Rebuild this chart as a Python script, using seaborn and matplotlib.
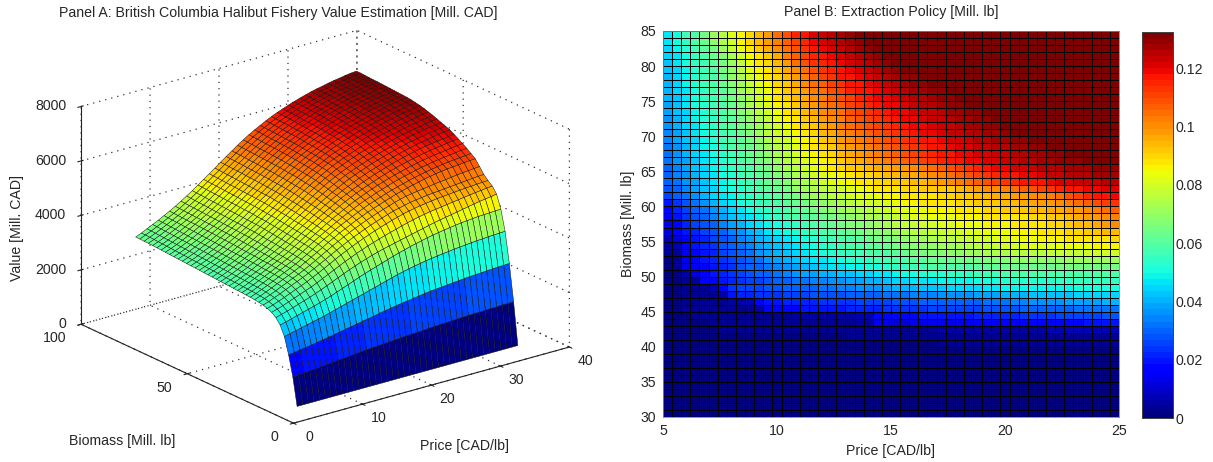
import numpy as np
import matplotlib
matplotlib.use("Agg")
import matplotlib.pyplot as plt
import seaborn as sns
from mpl_toolkits.mplot3d import proj3d

price_nodes = np.linspace(3.6, 35.6, 40)
biomass_nodes = np.arange(10, 88, 2)
value_rows = [
[0]*40,
[100,102,104,106,108,110,112,114,116,118,120,122,124,126,128,129,131,132,134,135,137,138,139,140,142,143,144,145,146,147,148,149,150,150,151,152,152,153,153,154],
[175,178,182,185,188,192,195,199,203,207,211,215,219,223,227,231,235,239,243,246,250,253,256,259,262,265,267,269,271,273,275,277,279,280,281,283,284,285,286,287],
[235,240,245,250,255,260,265,270,276,282,288,294,300,306,312,318,324,330,336,342,348,353,358,362,366,370,373,376,379,381,384,386,388,390,392,393,395,396,397,398],
[270,275,281,287,293,299,305,311,318,325,333,341,349,357,365,373,380,387,394,401,408,414,420,426,431,436,441,445,449,453,456,459,462,464,466,468,469,470,471,472],
[290,296,302,309,316,323,330,338,346,355,364,373,382,391,399,407,414,421,427,433,438,443,448,453,458,463,468,473,478,482,486,490,494,498,502,506,510,513,516,520],
[302,308,315,323,331,339,347,355,364,374,384,394,404,414,423,432,440,448,455,462,469,475,481,487,493,498,503,507,511,514,517,520,523,526,529,532,535,537,540,542],
[309,316,324,332,341,350,358,367,377,387,398,409,420,431,441,451,460,469,477,485,492,499,506,512,518,523,527,531,534,537,540,542,544,546,548,550,551,553,554,555],
[314,321,330,338,348,357,366,375,385,396,407,418,430,441,452,462,472,481,490,498,506,513,520,527,532,537,542,545,548,551,553,555,557,559,561,563,565,567,569,570],
[317,325,333,342,352,361,371,380,390,401,413,425,437,449,460,471,481,491,500,509,517,525,532,539,546,552,557,561,564,567,570,573,576,578,581,584,586,588,590,592],
[319,327,336,345,355,365,374,384,394,406,418,430,442,455,466,478,488,498,508,517,526,534,541,549,556,563,569,575,580,585,590,594,598,601,604,606,608,610,612,613],
[321,329,338,347,357,367,377,387,397,409,421,434,447,459,471,483,494,504,514,524,533,542,549,557,564,571,577,583,589,594,599,603,607,611,614,617,619,621,623,625],
[322,330,339,349,359,369,379,389,399,411,424,437,450,463,475,487,499,510,520,530,540,549,557,565,572,579,586,592,598,603,608,613,617,621,624,627,630,632,635,637],
[323,331,340,350,360,370,380,391,401,413,426,439,452,465,478,491,503,514,525,536,546,555,564,572,580,587,594,600,606,612,617,622,626,630,633,636,639,642,645,647],
[324,332,341,351,361,371,382,392,403,415,428,441,455,468,481,494,506,518,530,541,551,561,570,578,586,594,601,608,614,620,625,630,635,639,643,646,649,652,655,657],
[325,333,342,352,362,372,383,393,404,416,429,443,457,470,484,497,510,522,534,546,556,566,575,584,592,600,607,614,621,627,633,638,643,648,652,655,658,661,664,667],
[326,334,343,353,363,374,384,395,406,418,431,445,459,473,486,500,513,526,538,550,561,571,581,590,598,606,613,620,627,633,639,645,650,655,659,663,667,670,673,676],
[327,335,344,354,364,375,385,396,407,420,433,447,461,475,489,503,516,529,542,554,565,576,586,595,603,611,619,626,633,639,645,651,656,661,665,669,673,676,679,682],
[328,336,345,355,365,376,387,398,409,422,435,449,463,477,491,505,519,533,546,558,570,581,591,600,608,616,624,631,638,644,650,656,661,666,671,675,679,682,685,688],
[329,337,346,356,366,377,388,399,411,423,437,451,465,480,494,508,522,536,549,562,574,585,595,604,613,621,629,636,643,649,655,661,666,671,676,680,684,688,691,694],
[330,338,347,357,367,378,389,401,413,425,439,453,467,482,496,511,525,539,553,566,578,589,600,609,618,626,634,641,648,654,660,666,671,676,681,685,689,693,697,700],
[331,339,348,358,368,379,390,402,414,427,441,455,469,484,498,513,527,542,556,569,581,593,604,613,622,630,638,646,653,659,665,671,676,681,686,690,694,698,702,705],
[332,340,349,359,369,380,392,403,416,429,443,457,471,486,500,515,530,544,558,572,584,596,607,617,626,634,642,650,657,664,670,675,680,685,690,695,699,703,707,710],
[333,341,350,360,370,381,393,405,417,430,444,458,472,487,502,517,532,546,561,574,587,598,609,620,629,637,645,653,660,667,673,679,684,689,694,699,703,707,711,714],
[334,342,351,361,371,382,394,406,418,431,445,459,474,489,504,519,534,548,563,576,589,601,612,622,632,640,648,656,663,670,676,682,687,692,697,702,706,710,714,717],
[335,343,352,362,372,383,395,407,419,432,446,461,476,491,506,521,536,550,565,578,591,603,614,624,634,643,651,658,665,672,678,684,690,695,700,705,709,713,717,720],
[336,344,353,363,373,384,396,408,420,433,447,462,477,492,507,522,537,552,566,580,593,605,616,626,636,645,653,660,667,674,680,686,692,697,702,707,711,715,719,722],
[337,345,354,364,374,385,397,409,421,434,448,463,478,493,508,523,538,553,568,582,595,606,617,628,637,646,654,662,669,676,682,688,694,699,704,708,712,716,720,723],
[338,346,355,365,375,386,398,410,422,435,449,464,479,494,509,525,540,555,570,583,596,608,619,629,639,648,656,664,671,678,684,690,695,700,705,709,713,717,721,724],
[339,347,356,366,376,387,399,411,423,436,450,465,480,495,510,526,541,556,571,585,598,610,621,631,641,650,658,666,673,680,686,692,697,702,707,711,715,719,722,725],
[340,348,357,367,377,388,400,412,424,437,451,466,481,496,511,527,542,557,572,586,599,611,622,633,642,651,659,667,674,681,687,693,698,703,708,712,716,720,723,726],
[341,349,358,368,378,389,401,413,425,438,452,467,482,497,512,528,543,558,573,587,600,612,623,634,644,653,661,669,676,683,689,695,700,705,709,713,717,721,724,727],
[342,350,359,369,379,390,402,414,426,439,453,468,483,498,513,529,544,559,574,588,601,613,624,635,645,654,662,670,677,684,690,696,701,706,710,714,718,722,725,728],
[343,351,360,370,380,391,402,414,427,440,454,469,484,499,514,530,545,560,575,589,602,614,625,636,646,655,663,671,678,685,691,697,702,707,711,715,719,723,726,729],
[344,352,361,371,381,392,403,415,428,441,455,470,485,500,515,531,546,561,576,590,603,615,626,637,647,656,664,672,679,686,692,698,703,708,712,716,720,723,726,729],
[345,353,362,372,382,393,404,416,429,442,456,471,486,501,516,532,547,562,577,591,604,616,627,638,648,657,665,673,680,687,693,699,704,709,713,717,720,724,727,730],
[345,354,363,373,383,394,405,417,430,443,457,472,487,502,517,533,548,563,578,592,605,617,628,639,649,658,666,674,681,688,694,700,705,709,714,718,721,725,728,731],
[346,355,364,374,384,395,406,418,431,444,458,473,488,503,518,534,549,564,579,593,606,618,629,640,650,659,667,675,682,689,695,701,706,710,715,719,722,726,729,732],
[346,355,365,375,385,396,407,419,432,445,459,474,489,504,519,535,550,565,580,594,607,619,630,641,651,660,668,676,683,690,696,702,707,711,716,720,723,727,730,732],
]

# extraction policy, thousandths of a million lb; first row is biomass 84-85, last 30-31
policy_rows = [
[47,51,56,60,66,71,76,81,85,90,94,99,105,109,114,118,121,123,126,128,130,131,132]+[133]*27,
[46,50,54,58,63,69,74,80,86,90,95,99,103,107,111,115,119,122,124,126,128,130,131,132]+[133]*26,
[45,49,53,57,61,66,71,77,84,88,92,96,101,105,109,113,117,120,122,124,126,128,130,131,132]+[133]*25,
[44,47,51,55,59,63,68,74,80,85,89,93,97,102,106,110,114,117,120,122,124,126,128,130,131,132]+[133]*24,
[43,46,50,54,57,61,66,71,77,83,87,91,95,99,104,108,112,115,118,120,122,124,126,128,130,131,132]+[133]*23,
[42,45,49,53,56,60,65,70,76,81,85,89,93,97,101,105,109,112,115,118,120,122,124,126,128,130,131,132]+[133]*22,
[41,45,49,52,56,60,64,69,74,79,84,88,91,95,99,103,106,110,113,116,118,120,122,124,126,128,129,130,131,132]+[133]*20,
[41,44,48,52,56,59,63,68,72,77,82,86,90,93,97,101,104,107,110,113,116,118,120,122,124,126,127,129,130,131,132]+[133]*19,
[40,44,47,51,55,58,62,66,71,76,80,84,88,92,95,99,102,105,108,111,114,116,118,120,122,124,125,127,128,129,130,131,132]+[133]*17,
[40,43,47,50,54,57,61,65,70,74,79,83,87,90,94,97,100,103,106,109,111,114,117,119,120,122,123,125,126,127,129,130,131,132]+[133]*16,
[39,42,46,50,53,57,60,64,68,73,77,81,85,89,92,96,99,102,105,107,110,112,115,117,119,120,122,123,125,126,127,129,130,131,132]+[133]*15,
[38,42,45,49,53,56,60,63,67,71,75,79,83,87,90,94,97,100,103,105,108,110,113,115,117,119,120,122,123,124,126,127,128,129,130,131,132]+[133]*13,
[37,41,45,48,52,55,59,62,66,70,74,78,82,85,89,92,95,98,101,103,106,108,111,113,115,117,119,120,122,123,124,126,127,128,129,130,131,132]+[133]*12,
[36,40,44,47,51,54,58,61,65,68,72,76,80,83,87,90,93,96,99,102,104,106,109,111,113,115,117,119,120,122,123,124,125,127,128,129,130,131,132]+[133]*11,
[35,39,43,47,50,53,57,60,64,67,71,75,79,82,85,88,91,94,97,100,103,105,107,109,111,113,115,117,119,120,121,123,124,125,126,127,128,130,131,132]+[133]*10,
[34,38,42,45,49,52,56,59,62,66,69,73,77,80,83,86,89,92,95,98,100,103,105,107,109,111,113,115,117,118,120,121,122,124,125,126,127,128,129,130,131,132]+[133]*8,
[33,37,41,44,48,51,55,58,61,64,68,71,75,78,81,85,87,90,93,96,98,101,103,105,107,109,111,113,115,117,118,119,121,122,123,124,125,126,127,128,129,130,131,132]+[133]*6,
[33,36,40,44,47,50,53,57,60,63,66,70,73,76,80,83,85,88,91,94,96,99,101,103,105,107,109,111,113,115,117,118,119,120,121,122,123,124,125,126,127,128,129,130,131,132]+[133]*4,
[32,36,39,43,46,49,52,55,58,62,65,68,71,75,78,81,84,86,89,92,94,97,99,101,103,105,107,109,111,113,115,116,118,119,120,121,122,123,124,125,126,127,128,129,130,130,131,131,132,132],
[31,35,38,42,45,48,51,54,57,60,63,66,70,73,76,79,82,85,87,90,92,93,95,96,97,98,99,101,102,104,106,108,110,113,115,118,119,120,121,122,124,125,125,126,127,128,128,129,129,130],
[30,34,37,40,44,47,50,53,56,58,61,64,67,70,73,76,79,81,84,86,88,90,91,93,94,95,96,97,98,100,102,104,106,108,110,113,115,117,118,119,120,122,123,124,125,126,126,127,127,128],
[29,33,36,39,43,46,49,52,55,57,60,63,65,68,71,74,76,79,81,83,85,87,88,90,91,92,93,94,95,96,98,100,102,104,106,108,110,112,114,116,117,118,120,121,122,123,124,124,125,125],
[27,31,35,38,42,45,48,51,53,56,58,61,63,66,69,71,74,76,78,80,82,84,85,87,88,89,90,91,92,92,92,93,95,96,98,100,101,103,104,106,108,110,112,114,116,118,119,120,121,122],
[25,29,33,37,41,44,47,49,52,54,57,59,62,64,66,69,71,73,75,77,79,81,82,84,85,86,87,88,89,89,90,91,92,93,94,95,96,97,98,99,100,101,103,105,108,111,114,116,118,119],
[19,24,28,32,36,40,44,47,50,53,55,57,60,62,64,66,68,70,72,74,76,77,79,80,82,84,85,86,87,88,88,89,90,91,92,93,93,94,95,96,97,98,99,101,103,105,107,108,110,112],
[17,21,25,29,33,37,41,45,47,50,52,54,57,59,61,63,65,67,69,71,73,74,76,77,79,81,82,83,84,85,85,86,87,88,89,90,91,92,92,93,94,95,96,97,98,99,101,103,105,107],
[15,19,23,27,31,34,38,42,45,47,49,52,54,56,58,60,62,64,66,68,70,71,73,74,76,78,80,81,82,83,84,84,85,86,86,87,88,88,89,89,90,91,92,93,94,96,98,99,101,103],
[13,17,21,25,28,31,35,38,41,44,46,49,51,53,55,57,59,61,63,65,67,68,70,71,73,75,77,78,79,80,81,82,83,83,84,85,85,86,87,87,88,89,90,91,92,94,95,97,98,100],
[11,15,19,22,25,28,31,34,37,40,43,46,48,50,52,54,56,58,60,62,64,65,67,68,70,72,74,75,76,77,78,79,80,81,82,83,83,84,85,85,86,87,88,89,90,91,92,93,94,95],
[8,12,16,19,22,25,28,31,34,37,40,43,45,47,49,51,53,55,57,59,60,62,63,65,66,68,70,71,72,73,75,76,77,78,79,80,81,82,83,84,84,85,86,86,87,87,88,88,89,90],
[5,8,15,19,21,24,27,29,32,35,38,41,43,45,47,49,51,52,54,56,58,59,61,62,63,65,67,68,69,70,71,72,74,75,76,77,78,79,80,81,81,82,82,83,83,84,84,85,85,85],
[3,4,13,17,20,22,25,27,30,33,36,38,41,43,45,47,48,50,52,54,55,56,58,59,60,62,64,65,66,67,68,69,70,71,72,73,73,74,75,75,76,76,77,77,78,78,79,79,80,80],
[2,3,14,18,20,22,24,26,28,31,33,36,38,40,42,44,46,47,49,51,52,53,55,56,57,58,60,61,62,63,63,64,65,66,66,67,68,68,69,69,69,70,70,70,71,71,71,72,72,72],
[2,3,13,16,18,20,22,24,27,29,31,33,35,37,39,41,43,45,46,47,48,49,50,51,52,54,55,56,57,58,58,59,60,60,61,62,62,63,63,63,64,64,64,65,65,65,65,66,66,66],
[2,2,5,12,16,19,21,23,25,27,29,30,32,34,36,38,39,40,41,42,43,44,45,46,47,49,50,51,52,52,53,54,54,55,56,56,57,58,58,58,59,59,59,59,59,60,60,60,60,60],
[2,2,3,4,15,18,20,22,24,25,26,28,29,31,32,33,34,35,36,37,38,39,40,41,43,44,45,46,46,47,48,48,49,49,50,50,51,52,52,52,53,53,53,54,54,54,54,55,55,55],
[2,2,3,3,4,7,18,24,25,26,26,27,28,29,30,30,31,32,33,34,35,36,36,37,38,40,40,41,42,43,43,44,44,45,45,46,47,48,48,48,48,49,49,49,49,50,50,50,50,50],
[2,2,3,3,3,4,6,19,21,22,23,24,24,25,26,26,27,27,28,28,29,30,30,31,32,32,33,34,35,35,36,36,37,37,38,38,39,40,41,41,42,42,43,43,43,44,44,44,45,45],
[2,2,3,3,3,3,4,5,6,7,16,19,20,21,21,22,22,23,23,24,24,25,25,26,26,27,28,28,29,29,30,30,30,31,31,32,32,33,34,35,36,36,37,37,38,38,39,39,40,40],
[2,2,3,3,3,3,3,4,4,4,5,15,17,18,18,19,19,20,20,20,21,21,22,22,23,23,24,24,24,25,25,25,26,26,26,27,27,28,28,29,29,30,30,31,31,32,32,33,33,33],
[2,2,2,3,3,3,3,3,3,3,3,3,4,4,5,5,5,5,6,6,6,7,8,16,17,17,18,18,19,19,19,20,20,20,21,21,21,22,22,23,23,24,24,25,25,26,26,26,27,27],
[2,2,2,2,2,3,3,3,3,3,3,3,3,3,3,3,4,4,4,4,4,5,6,13,13,12,12,13,13,13,14,14,14,14,15,15,15,16,16,16,17,17,17,18,18,18,19,19,19,20],
[2]*6+[3]*18+[4]*6+[5]*6+[6]*6+[7]*4+[8]*4,
[2]*20+[3]*20+[4]*10,
[2]*30+[3]*20,
]+[[2]*50]*10

price_ticks_a = [0, 10, 20, 30, 40]
biomass_ticks_a = [0, 50, 100]
value_ticks = [0, 2000, 4000, 6000, 8000]
price_ticks_b = [5, 10, 15, 20, 25]
biomass_ticks_b = [30, 35, 40, 45, 50, 55, 60, 65, 70, 75, 80, 85]
policy_ticks = [0, 0.02, 0.04, 0.06, 0.08, 0.1, 0.12]
policy_tick_labels = ["0", "0.02", "0.04", "0.06", "0.08", "0.1", "0.12"]

sns.set_style("white")
plt.rcParams["font.family"] = ["Liberation Sans", "DejaVu Sans"]
FS = 10.2
plt.rcParams["font.size"] = FS
INK = "#262626"
DOTS = (0, (1, 4))
W, H = 1213, 462
jet = plt.get_cmap("jet", 64)

fig = plt.figure(figsize=(W/100, H/100), dpi=100)

def rect(x0, y0, x1, y1):
    return [x0/W, 1-y1/H, (x1-x0)/W, (y1-y0)/H]

# Panel A
ax = fig.add_axes(rect(24, 2, 614, 464), projection="3d", proj_type="ortho")
P, B = np.meshgrid(price_nodes, biomass_nodes)
Z = np.array(value_rows)*10.0
faces = jet(plt.Normalize(0, 7320)(Z))
ax.plot_surface(P, B, Z, rstride=1, cstride=1, facecolors=faces, shade=False,
                edgecolor="#111111", linewidth=0.35, antialiased=True)
ax.set_xlim(0, 40, view_margin=0)
ax.set_ylim(0, 100, view_margin=0)
ax.set_zlim(0, 8000, view_margin=0)
ax.view_init(elev=21, azim=-127.6)
ax.set_box_aspect((1, 1, 0.67), zoom=1.145)
ax.set_xticks(price_ticks_a)
ax.set_yticks(biomass_ticks_a)
ax.set_zticks(value_ticks)
ax.set_xticklabels([""]*len(price_ticks_a))
ax.set_yticklabels([""]*len(biomass_ticks_a))
ax.set_zticklabels([""]*len(value_ticks))
for a in (ax.xaxis, ax.yaxis, ax.zaxis):
    a.set_pane_color((1, 1, 1, 0))
    a.pane.set_edgecolor("#444444")
    a.pane.set_linestyle(DOTS)
    a.pane.set_linewidth(0.9)
    a._axinfo["grid"].update(color="#333333", linestyle=DOTS, linewidth=0.9)
    a.line.set_color("#222222")
    a.line.set_linewidth(0.8)
    a._axinfo["tick"].update(inward_factor=0.15, outward_factor=0.1)
ax.grid(True)

M = ax.get_proj()
def tick_label(x, y, z, text, dx, dy, ha):
    px, py, _ = proj3d.proj_transform(x, y, z, M)
    ax.annotate(str(text), (px, py), xytext=(dx, dy), textcoords="offset pixels",
                ha=ha, va="center", color=INK, fontsize=FS, annotation_clip=False)
for v in value_ticks:
    tick_label(0, 100, v, v, -15, 0, "right")
for b in biomass_ticks_a:
    tick_label(0, b, 0, b, -15, -14, "right")
for p in price_ticks_a:
    tick_label(p, 0, 0, p, 16, -14, "center")

fig.text(17/W, 1-228/H, "Value [Mill. CAD]", rotation=90, va="center", ha="center", color=INK, fontsize=FS)
fig.text(122/W, 1-441/H, "Biomass [Mill. lb]", ha="center", va="center", color=INK, fontsize=FS)
fig.text(465/W, 1-446/H, "Price [CAD/lb]", ha="center", va="center", color=INK, fontsize=FS)
fig.text(278/W, 1-13/H, "Panel A: British Columbia Halibut Fishery Value Estimation [Mill. CAD]",
         ha="center", va="center", color=INK, fontsize=FS)

# Panel B
ax2 = fig.add_axes(rect(663, 31, 1119, 417))
cax = fig.add_axes(rect(1142, 32, 1173, 418))
P2 = np.array(policy_rows)/1000.0
sns.heatmap(P2, ax=ax2, cbar_ax=cax, cmap=jet, vmin=0, vmax=0.1325,
            linewidths=0.5, linecolor="black", xticklabels=False, yticklabels=False)
step = 0.4
ax2.set_xticks([(p-5)/step for p in price_ticks_b])
ax2.set_xticklabels(price_ticks_b)
ax2.set_yticks([85-b for b in biomass_ticks_b])
ax2.set_yticklabels(biomass_ticks_b, rotation=0)
ax2.tick_params(length=0, pad=5, labelsize=FS, labelcolor=INK, bottom=False, left=False)
ax2.set_xlabel("Price [CAD/lb]", fontsize=FS, color=INK, labelpad=4)
ax2.set_ylabel("Biomass [Mill. lb]", fontsize=FS, color=INK, labelpad=4)
ax2.set_title("Panel B: Extraction Policy [Mill. lb]", fontsize=FS, color=INK, pad=11)
for s in ax2.spines.values():
    s.set_visible(True); s.set_color("#888888"); s.set_linewidth(0.6)
cax.set_yticks(policy_ticks)
cax.set_yticklabels(policy_tick_labels)
cax.tick_params(axis="y", direction="in", length=3, width=0.6, right=True, left=True,
                labelsize=FS, labelcolor=INK, pad=2)
for s in cax.spines.values():
    s.set_visible(True); s.set_color("#444444"); s.set_linewidth(0.7)

fig.savefig("out.png", dpi=100)
